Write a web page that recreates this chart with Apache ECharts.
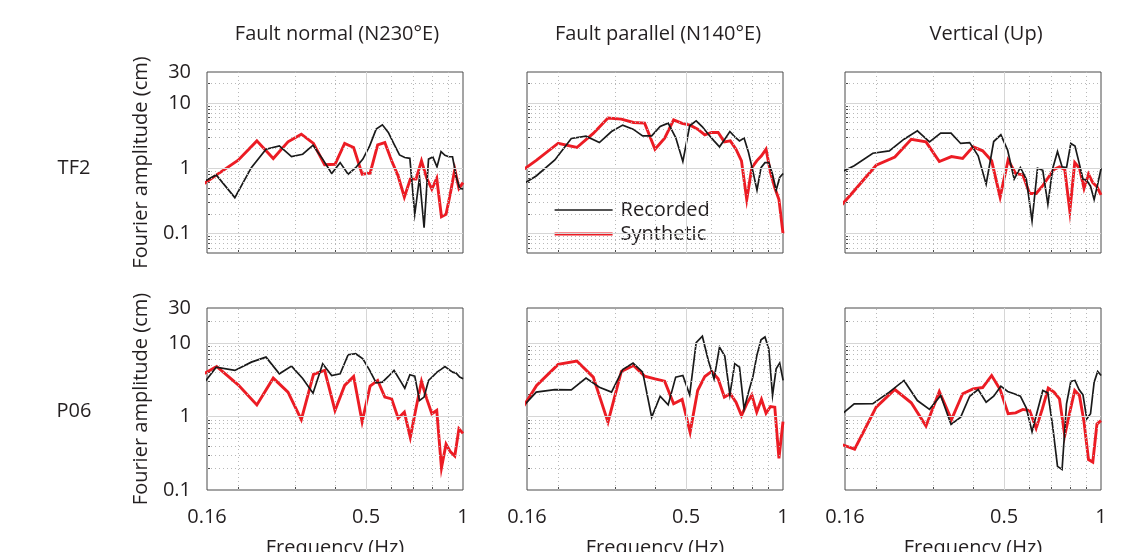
<!DOCTYPE html>
<html>
<head>
<meta charset="utf-8">
<script src="https://cdn.jsdelivr.net/npm/echarts@6/dist/echarts.min.js"></script>
<style>
  html, body { margin: 0; padding: 0; background: #fff; }
  #chart { width: 1125px; height: 552px; }
</style>
</head>
<body>
<div id="chart"></div>
<script>
// Frequency samples (Hz) of the recorded and synthetic spectra
const fRecorded = [0.1465, 0.1709, 0.1953, 0.2197, 0.2441, 0.2686, 0.2930, 0.3174, 0.3418, 0.3662,
  0.3906, 0.4150, 0.4395, 0.4639, 0.4883, 0.5127, 0.5371, 0.5615, 0.5859, 0.6104,
  0.6348, 0.6592, 0.6836, 0.7080, 0.7324, 0.7568, 0.7813, 0.8057, 0.8301, 0.8545,
  0.8789, 0.9033, 0.9277, 0.9521, 0.9766, 1.0010];
const fSynthetic = [0.1429, 0.1714, 0.2000, 0.2286, 0.2571, 0.2857, 0.3143, 0.3429, 0.3714, 0.4000,
  0.4286, 0.4571, 0.4857, 0.5143, 0.5429, 0.5714, 0.6000, 0.6286, 0.6571, 0.6857,
  0.7143, 0.7429, 0.7714, 0.8000, 0.8286, 0.8571, 0.8857, 0.9143, 0.9429, 0.9714, 1.0000];

// Fourier amplitude (cm), station TF2
const tf2NormalRec = [0.52, 0.79, 0.354, 1.02, 1.96, 2.2, 1.51, 1.64, 2.26, 1.38, 0.83, 1.22, 0.81, 1.02, 1.38, 2.2, 3.98, 4.64, 3.54, 2.34, 1.6, 1.46, 1.42, 0.196, 0.72, 0.122, 1.38, 1.49, 1.05, 1.8, 1.58, 1.5, 1.5, 0.75, 0.49, 0.48];
const tf2NormalSyn = [0.42, 0.79, 1.33, 2.63, 1.41, 2.54, 3.33, 2.4, 1.13, 1.15, 2.4, 2.08, 0.81, 0.84, 2.29, 2.48, 1.3, 0.76, 0.36, 0.68, 0.68, 1.3, 0.7, 0.48, 0.7, 0.18, 0.196, 0.42, 0.96, 0.49, 0.6];
const tf2ParallelRec = [0.475, 0.76, 1.34, 2.86, 3.1, 2.48, 3.66, 4.59, 3.98, 3.14, 3.14, 4.37, 4.92, 2.96, 1.27, 4.48, 5.35, 4.33, 3.33, 2.63, 2.13, 2.79, 3.66, 3.03, 2.63, 2.9, 1.74, 0.91, 0.46, 1.02, 1.22, 1.22, 0.81, 0.46, 0.72, 0.83];
const tf2ParallelSyn = [0.7, 1.33, 2.42, 2.08, 3.42, 5.88, 5.67, 5.04, 4.92, 1.96, 2.9, 5.54, 4.87, 4.59, 3.98, 3.25, 3.54, 3.54, 2.54, 2.63, 1.96, 1.3, 0.33, 1.02, 1.3, 1.55, 1.96, 0.86, 0.5, 0.33, 0.1];
const tf2VerticalRec = [0.75, 1.09, 1.7, 1.85, 2.79, 3.75, 2.54, 3.45, 3.45, 2.4, 2.48, 1.55, 0.57, 2.57, 3.26, 1.89, 0.68, 1.02, 0.68, 0.155, 1.0, 0.93, 0.28, 1.0, 1.8, 1.05, 1.02, 2.4, 2.2, 1.22, 0.68, 0.65, 0.53, 0.33, 0.57, 1.0];
const tf2VerticalSyn = [0.164, 0.46, 1.11, 1.49, 2.79, 2.54, 1.27, 1.51, 1.41, 2.13, 1.85, 1.3, 0.36, 1.34, 0.83, 0.79, 0.41, 0.41, 0.53, 0.72, 0.96, 1.05, 0.96, 0.22, 1.22, 1.0, 0.49, 0.81, 0.6, 0.52, 0.39];

// Fourier amplitude (cm), station P06
const p06NormalRec = [1.97, 4.7, 4.24, 5.5, 6.44, 3.82, 4.86, 3.3, 2.08, 5.23, 3.62, 3.82, 6.93, 7.16, 6.11, 4.24, 2.88, 2.94, 3.51, 4.24, 3.2, 2.43, 3.7, 3.55, 1.65, 1.84, 3.1, 3.51, 4.02, 4.38, 4.8, 4.38, 4.02, 3.9, 3.44, 3.26];
const p06NormalSyn = [3.03, 4.8, 2.7, 1.44, 3.33, 2.15, 0.91, 3.74, 4.24, 1.21, 2.65, 3.51, 0.85, 2.59, 3.1, 1.84, 1.74, 0.95, 1.15, 0.52, 1.3, 3.0, 1.74, 1.09, 1.21, 0.2, 0.42, 0.33, 0.29, 0.68, 0.59];
const p06ParallelRec = [1.03, 2.15, 2.33, 2.31, 3.33, 2.51, 2.15, 4.37, 5.34, 4.02, 0.98, 1.89, 1.44, 3.44, 3.62, 1.97, 10.1, 12.4, 5.8, 3.26, 8.8, 6.65, 1.97, 5.23, 4.7, 1.27, 2.15, 3.44, 6.9, 11.1, 12.1, 8.3, 1.93, 4.46, 5.34, 3.1];
const p06ParallelSyn = [0.74, 2.65, 5.12, 5.69, 3.44, 0.84, 4.11, 4.96, 3.55, 3.26, 3.03, 1.49, 1.71, 0.61, 2.26, 3.51, 4.11, 3.26, 1.84, 2.04, 1.57, 1.03, 1.49, 1.97, 1.15, 1.71, 1.11, 1.37, 1.34, 0.27, 0.85];
const p06VerticalRec = [0.85, 1.49, 1.5, 2.15, 3.1, 1.65, 1.25, 1.93, 0.78, 0.98, 1.89, 2.33, 1.57, 1.89, 2.59, 2.19, 2.04, 1.89, 1.3, 0.62, 1.21, 2.26, 2.1, 0.72, 0.21, 0.19, 1.49, 3.0, 3.1, 2.33, 1.97, 0.93, 1.09, 2.94, 4.11, 3.62];
const p06VerticalSyn = [0.48, 0.36, 1.34, 2.33, 1.54, 0.74, 2.19, 0.91, 2.04, 2.38, 2.48, 3.62, 2.33, 1.09, 1.12, 1.25, 1.21, 0.69, 1.27, 2.43, 2.15, 1.74, 0.55, 1.15, 2.26, 1.93, 0.84, 0.26, 0.24, 0.79, 0.88];

// Labels
const componentTitles = ['Fault normal (N230\u00b0E)', 'Fault parallel (N140\u00b0E)', 'Vertical (Up)'];
const stationNames = ['TF2', 'P06'];
const seriesNames = ['Recorded', 'Synthetic'];
const yAxisTitle = 'Fourier amplitude (cm)';
const xAxisTitle = 'Frequency (Hz)';

// Axis ranges, tick labels and grid lines
const xRange = [0.16, 1];
const yRanges = [[0.05, 30], [0.1, 30]];
const xTickLabels = [0.16, 0.5, 1];
const yTickLabels = [0.1, 1, 10, 30];
const xMajorGrid = [0.5];
const xMinorGrid = [0.2, 0.3, 0.4, 0.6, 0.7, 0.8, 0.9];
const yMajorGrid = [0.1, 1, 10];
const yMinorGrid = [0.06, 0.07, 0.08, 0.09, 0.2, 0.3, 0.4, 0.5, 0.6, 0.7, 0.8, 0.9,
  2, 3, 4, 5, 6, 7, 8, 9, 20];

const panels = [
  [[tf2NormalRec, tf2NormalSyn], [tf2ParallelRec, tf2ParallelSyn], [tf2VerticalRec, tf2VerticalSyn]],
  [[p06NormalRec, p06NormalSyn], [p06ParallelRec, p06ParallelSyn], [p06VerticalRec, p06VerticalSyn]]
];

const FONT = '"Open Sans"';
const FS = 20;
const TEXT = '#231f20';
const BOX = '#4a4a4a';
const REC_COLOR = '#1a1a1a';
const SYN_COLOR = '#ec1c24';
const REC_WIDTH = 1.7;
const SYN_WIDTH = 2.9;
const colLeft = [207, 527, 845];
const colWidth = 256;
const rowTop = [72, 308];
const rowHeight = [181, 182];
const titleCenters = [332, 653, 981];
const stationCenter = [167, 410];

const grids = [], xAxes = [], yAxes = [], series = [];
const titles = [];

function pairs(freqs, vals) {
  return vals.map((v, i) => [freqs[i], v]);
}

const textStyle = { fontFamily: FONT, fontSize: FS, fontWeight: 'normal', color: TEXT };

componentTitles.forEach((t, c) => titles.push({
  text: t, left: titleCenters[c], top: 19, textAlign: 'center', textStyle
}));
stationNames.forEach((s, r) => titles.push({
  text: s, left: 69, top: stationCenter[r] - 14, textAlign: 'center', textStyle
}));

let idx = 0;
for (let r = 0; r < 2; r++) {
  for (let c = 0; c < 3; c++) {
    const [yMin, yMax] = yRanges[r];
    grids.push({
      left: colLeft[c], top: rowTop[r], width: colWidth, height: rowHeight[r],
      outerBoundsMode: 'none', containLabel: false,
      show: true, borderColor: BOX, borderWidth: 1, backgroundColor: '#fff'
    });
    xAxes.push({
      type: 'log', logBase: 10, gridIndex: idx, min: xRange[0], max: xRange[1],
      axisLine: { show: false },
      splitLine: { show: false },
      axisTick: { show: true, inside: true, length: 3, lineStyle: { color: BOX },
        customValues: xMinorGrid.concat(xMajorGrid) },
      axisLabel: { show: r === 1, customValues: xTickLabels, margin: 17,
        fontFamily: FONT, fontSize: FS, color: TEXT },
      name: r === 1 ? xAxisTitle : '', nameLocation: 'middle', nameGap: 48,
      nameTextStyle: { fontFamily: FONT, fontSize: FS, color: TEXT }
    });
    const yTicks = yMinorGrid.concat(yMajorGrid).filter(v => v > yMin && v < yMax);
    yAxes.push({
      type: 'log', logBase: 10, gridIndex: idx, min: yMin, max: yMax,
      axisLine: { show: false },
      splitLine: { show: false },
      axisTick: { show: true, inside: true, length: 3, lineStyle: { color: BOX },
        customValues: yTicks },
      axisLabel: { show: c === 0, customValues: yTickLabels, margin: 16,
        fontFamily: FONT, fontSize: FS, color: TEXT },
      name: c === 0 ? yAxisTitle : '', nameLocation: 'middle', nameGap: 56,
      nameTextStyle: { fontFamily: FONT, fontSize: FS, color: TEXT }
    });

    // Grid lines drawn on the panel's own axes
    const lines = [];
    xMinorGrid.forEach(v => lines.push({ xAxis: v, lineStyle: { color: '#b8b8b8', type: [1, 3], width: 1 } }));
    yMinorGrid.filter(v => v > yMin && v < yMax).forEach(v =>
      lines.push({ yAxis: v, lineStyle: { color: '#b8b8b8', type: [1, 3], width: 1 } }));
    xMajorGrid.forEach(v => lines.push({ xAxis: v, lineStyle: { color: '#d6d6d6', type: 'solid', width: 1 } }));
    yMajorGrid.filter(v => v > yMin && v < yMax).forEach(v =>
      lines.push({ yAxis: v, lineStyle: { color: '#d6d6d6', type: 'solid', width: 1.2 } }));
    series.push({
      type: 'line', xAxisIndex: idx, yAxisIndex: idx, z: 1, silent: true,
      data: [[0.5, 1]], symbol: 'none', lineStyle: { opacity: 0 },
      markLine: { silent: true, symbol: ['none', 'none'], label: { show: false },
        animation: false, data: lines }
    });

    const [rec, syn] = panels[r][c];
    series.push({
      name: seriesNames[1], type: 'line', xAxisIndex: idx, yAxisIndex: idx, z: 3,
      data: pairs(fSynthetic, syn), symbol: 'none', clip: true,
      lineStyle: { color: SYN_COLOR, width: SYN_WIDTH, join: 'miter' },
      itemStyle: { color: SYN_COLOR }
    });
    series.push({
      name: seriesNames[0], type: 'line', xAxisIndex: idx, yAxisIndex: idx, z: 4,
      data: pairs(fRecorded, rec), symbol: 'none', clip: true,
      lineStyle: { color: REC_COLOR, width: REC_WIDTH, join: 'miter' },
      itemStyle: { color: REC_COLOR }
    });
    idx++;
  }
}

const chart = echarts.init(document.getElementById('chart'), null, { renderer: 'canvas' });
chart.setOption({
  animation: false,
  backgroundColor: '#fff',
  title: titles,
  grid: grids,
  xAxis: xAxes,
  yAxis: yAxes,
  // Key: each series drawn as a plain stroke (marker hidden), inside the upper middle panel
  legend: {
    data: [
      { name: seriesNames[0], lineStyle: { width: REC_WIDTH, color: REC_COLOR } },
      { name: seriesNames[1], lineStyle: { width: SYN_WIDTH + 0.3, color: SYN_COLOR } }
    ],
    orient: 'vertical', left: 548, top: 194,
    itemWidth: 58, itemHeight: 14, itemGap: 2, selectedMode: false,
    itemStyle: { opacity: 0 },
    textStyle: { fontFamily: FONT, fontSize: FS, color: TEXT, lineHeight: 22, padding: [0, 0, 0, 3] }
  },
  series: series
});
</script>
</body>
</html>
